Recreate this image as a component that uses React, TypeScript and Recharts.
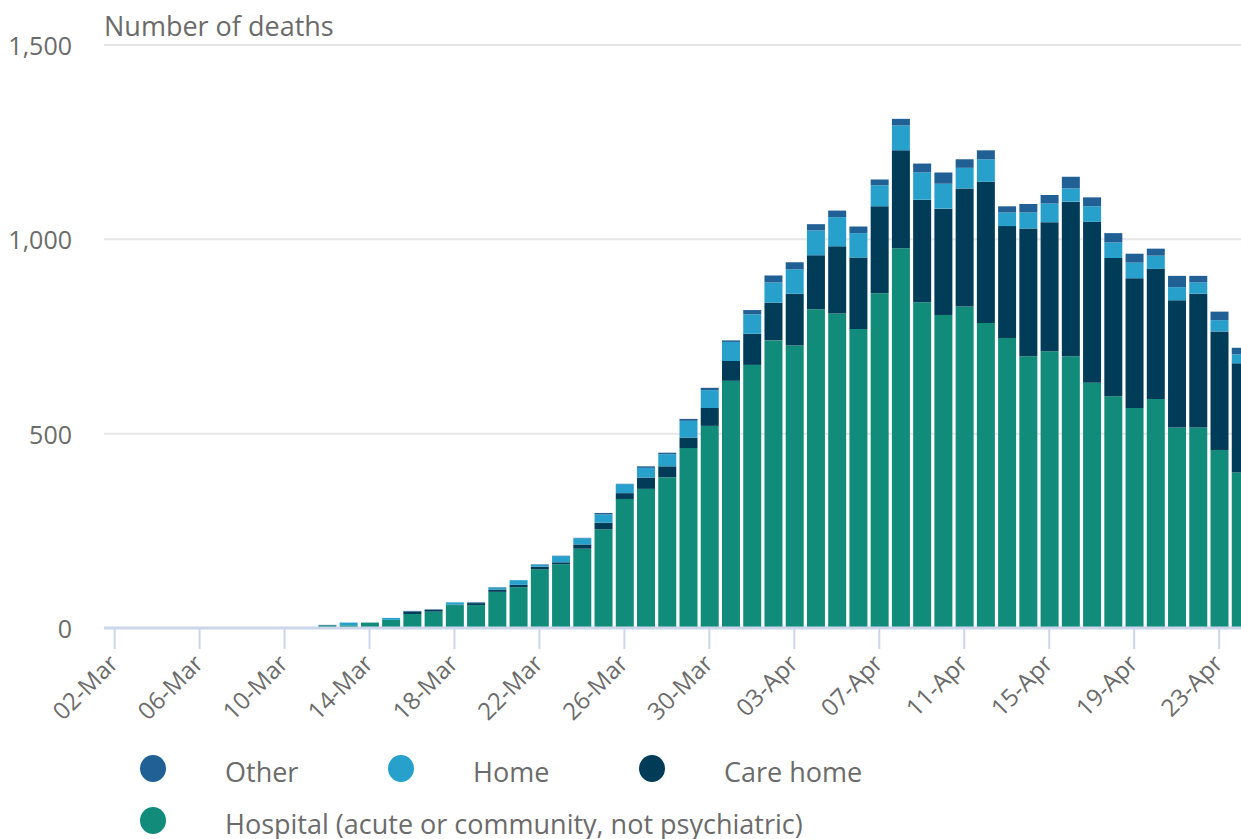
import { Bar, BarChart, CartesianGrid, XAxis, YAxis } from "recharts";

const dates = [
  "02-Mar", "03-Mar", "04-Mar", "05-Mar", "06-Mar", "07-Mar", "08-Mar", "09-Mar", "10-Mar", "11-Mar",
  "12-Mar", "13-Mar", "14-Mar", "15-Mar", "16-Mar", "17-Mar", "18-Mar", "19-Mar", "20-Mar", "21-Mar",
  "22-Mar", "23-Mar", "24-Mar", "25-Mar", "26-Mar", "27-Mar", "28-Mar", "29-Mar", "30-Mar", "31-Mar",
  "01-Apr", "02-Apr", "03-Apr", "04-Apr", "05-Apr", "06-Apr", "07-Apr", "08-Apr", "09-Apr", "10-Apr",
  "11-Apr", "12-Apr", "13-Apr", "14-Apr", "15-Apr", "16-Apr", "17-Apr", "18-Apr", "19-Apr", "20-Apr",
  "21-Apr", "22-Apr", "23-Apr", "24-Apr",
];

const hospital = [
  0, 0, 0, 0, 0, 0, 0, 0, 0, 0,
  7, 7, 14, 21, 36, 42, 59, 59, 93, 105,
  151, 164, 204, 254, 332, 358, 388, 463, 520, 636,
  677, 740, 727, 820, 809, 769, 861, 977, 838, 805,
  827, 785, 746, 699, 712, 699, 631, 596, 566, 589,
  516, 516, 458, 400,
];

const careHome = [
  0, 0, 0, 0, 0, 0, 0, 0, 0, 0,
  0, 0, 0, 0, 6, 5, 1, 5, 6, 6,
  7, 5, 11, 17, 15, 29, 28, 27, 46, 51,
  80, 97, 133, 139, 173, 184, 224, 252, 264, 274,
  304, 363, 288, 329, 332, 398, 414, 356, 334, 335,
  327, 344, 305, 281,
];

const home = [
  0, 0, 0, 0, 0, 0, 0, 0, 0, 0,
  0, 7, 0, 5, 0, 0, 6, 0, 5, 12,
  5, 16, 16, 21, 23, 25, 31, 43, 46, 49,
  50, 52, 63, 64, 75, 63, 54, 64, 70, 64,
  53, 58, 35, 41, 48, 34, 40, 40, 40, 34,
  34, 29, 29, 23,
];

const other = [
  0, 0, 0, 0, 0, 0, 0, 0, 0, 0,
  1, 0, 0, 0, 2, 1, 0, 2, 1, 0,
  1, 1, 1, 4, 1, 4, 4, 5, 6, 4,
  11, 18, 18, 16, 17, 17, 15, 17, 23, 29,
  22, 23, 16, 22, 22, 30, 23, 24, 23, 18,
  29, 17, 22, 17,
];

const yTicks = [0, 500, 1000, 1500];

const series = [
  { key: "hospital", name: "Hospital (acute or community, not psychiatric)", color: "#118c7b" },
  { key: "careHome", name: "Care home", color: "#003c57" },
  { key: "home", name: "Home", color: "#27a0cc" },
  { key: "other", name: "Other", color: "#206095" },
];

const data = dates.map((date, i) => ({
  date,
  hospital: hospital[i],
  careHome: careHome[i],
  home: home[i],
  other: other[i],
}));

const FONT = "'Open Sans', sans-serif";
const TEXT = "#6b6b6b";

function XTick({ x, y, payload }: { x?: number; y?: number; payload?: { value: string } }) {
  return (
    <text
      transform={`translate(${(x ?? 0) + 5},${(y ?? 0) + 14}) rotate(-45)`}
      textAnchor="end"
      fontSize={24}
      fontFamily={FONT}
      fill={TEXT}
    >
      {payload?.value}
    </text>
  );
}

function YTick({ x, y, payload }: { x?: number; y?: number; payload?: { value: number } }) {
  return (
    <text x={x} y={(y ?? 0) + 10} textAnchor="end" fontSize={25} fontFamily={FONT} fill={TEXT}>
      {(payload?.value ?? 0).toLocaleString("en-GB")}
    </text>
  );
}

// legend sits under the axis, in the ONS order: Other, Home, Care home / Hospital
const legendSlots = [
  { key: "other", left: 140, top: 755 },
  { key: "home", left: 388, top: 755 },
  { key: "careHome", left: 639, top: 755 },
  { key: "hospital", left: 140, top: 807 },
];

export default function App() {
  return (
    <div
      style={{
        position: "fixed",
        left: 0,
        top: 0,
        width: 1241,
        height: 839,
        overflow: "hidden",
        background: "#ffffff",
        fontFamily: FONT,
      }}
    >
      <div
        style={{
          position: "absolute",
          left: 104,
          top: 12,
          fontSize: 27,
          lineHeight: "27px",
          color: TEXT,
          whiteSpace: "nowrap",
        }}
      >
        Number of deaths
      </div>

      <BarChart
        width={1251}
        height={740}
        data={data}
        margin={{ top: 45, right: 0, bottom: 0, left: 0 }}
      >
        <CartesianGrid vertical={false} stroke="#e6e6e6" strokeWidth={2} />
        <XAxis
          dataKey="date"
          interval={3}
          height={112}
          tickSize={21}
          tickMargin={2}
          axisLine={{ stroke: "#ccd6eb", strokeWidth: 3 }}
          tickLine={{ stroke: "#ccd6eb", strokeWidth: 2 }}
          tick={<XTick />}
        />
        <YAxis
          width={104}
          domain={[0, 1500]}
          ticks={yTicks}
          axisLine={false}
          tickLine={false}
          tickSize={0}
          tickMargin={32}
          tick={<YTick />}
        />
        {series.map((s) => (
          <Bar
            key={s.key}
            dataKey={s.key}
            name={s.name}
            stackId="deaths"
            fill={s.color}
            barSize={18}
            isAnimationActive={false}
          />
        ))}
      </BarChart>

      {legendSlots.map((slot) => {
        const s = series.find((item) => item.key === slot.key)!;
        return (
          <div
            key={slot.key}
            style={{
              position: "absolute",
              left: slot.left,
              top: slot.top,
              display: "flex",
              alignItems: "flex-start",
              whiteSpace: "nowrap",
            }}
          >
            <span
              style={{
                display: "inline-block",
                width: 26,
                height: 27,
                borderRadius: "50%",
                background: s.color,
              }}
            />
            <span
              style={{
                marginLeft: 59,
                marginTop: 3,
                fontSize: 27,
                lineHeight: "27px",
                color: TEXT,
              }}
            >
              {s.name}
            </span>
          </div>
        );
      })}
    </div>
  );
}
